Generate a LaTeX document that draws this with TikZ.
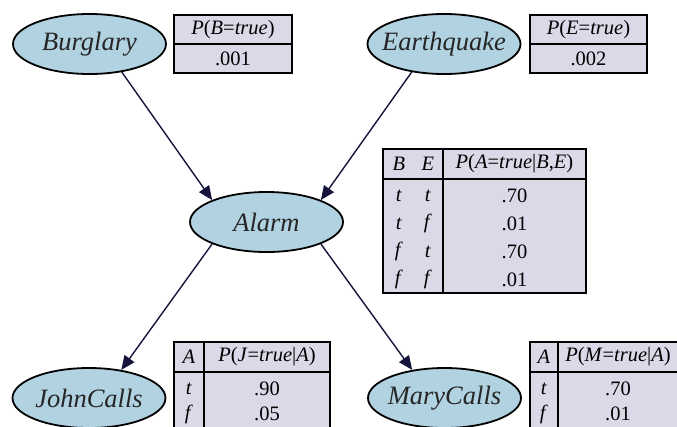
\documentclass[tikz,border=0pt]{standalone}
\usepackage{fontspec}
\setmainfont{Liberation Serif}
\usetikzlibrary{arrows.meta, positioning, shapes.geometric}
\definecolor{varblue}{HTML}{B1D2E1}
\definecolor{cptfill}{HTML}{DCD8E7}
\definecolor{linknavy}{HTML}{14143C}
\tikzset{
  var/.style={draw, ellipse, line width=1.8pt, fill=varblue, inner xsep=-10pt, inner ysep=0pt, minimum width=153pt, minimum height=60pt, text=black!85, font=\fontsize{26.5}{30}\selectfont\itshape},
  cpt/.style={draw, line width=2.2pt, fill=cptfill},
  cptline/.style={line width=2.2pt},
  cell/.style={inner sep=0pt, font=\fontsize{20.5}{24}\selectfont},
  link/.style={-{Triangle[length=14pt,width=12pt]}, line width=1.4pt, linknavy}
}

\begin{document}
\begin{tikzpicture}[x=1pt,y=-1pt]
    \useasboundingbox (0,0) rectangle (677,426);
    \clip (0,0) rectangle (677,426);
    % variables
    \node[var] (burglary) at (89.5,44) {Burglary};
    \node[var] (earthquake) at (444,44) {Earthquake};
    \node[var] (alarm) at (266.5,222) {Alarm};
    \node[var] (johncalls) at (89,398) {JohnCalls};
    \node[var] (marycalls) at (444.5,398) {MaryCalls};
    \draw[link] (burglary.-41) -- (alarm.158);
    \draw[link] (earthquake.-139) -- (alarm.22);
    \draw[link] (alarm.-158) -- (johncalls.41);
    \draw[link] (alarm.-22) -- (marycalls.139);
    % P(B)
    \draw[cpt] (174,15) rectangle (292,73);
    \draw[cptline] (174,44) -- (292,44);
    \node[cell] (pbhead) at (233,29.5) {\textit{P}(\textit{B}=\textit{true})};
    \node[cell] (pbval) at (233,59) {.001};
    % P(E)
    \draw[cpt] (530,15) rectangle (647,73);
    \draw[cptline] (530,44) -- (647,44);
    \node[cell] (pehead) at (588.5,29.5) {\textit{P}(\textit{E}=\textit{true})};
    \node[cell] (peval) at (588.5,59) {.002};
    % P(A|B,E)
    \draw[cpt] (383,149) rectangle (586,293);
    \draw[cptline] (383,179) -- (586,179);
    \draw[cptline] (443,149) -- (443,293);
    \node[cell] (pab) at (399,164) {\textit{B}};
    \node[cell] (pae) at (428,164) {\textit{E}};
    \node[cell] (pahead) at (514.5,164) {\textit{P}(\textit{A}=\textit{true}|\textit{B},\textit{E})};
    \node[cell] (pab1) at (399,195.5) {\textit{t}};
    \node[cell] (pae1) at (428,195.5) {\textit{t}};
    \node[cell] (paval1) at (514.5,195.5) {.70};
    \node[cell] (pab2) at (399,223.5) {\textit{t}};
    \node[cell] (pae2) at (428,223.5) {\textit{f}};
    \node[cell] (paval2) at (514.5,223.5) {.01};
    \node[cell] (pab3) at (399,251.5) {\textit{f}};
    \node[cell] (pae3) at (428,251.5) {\textit{t}};
    \node[cell] (paval3) at (514.5,251.5) {.70};
    \node[cell] (pab4) at (399,279.5) {\textit{f}};
    \node[cell] (pae4) at (428,279.5) {\textit{f}};
    \node[cell] (paval4) at (514.5,279.5) {.01};
    % P(J|A)
    \draw[cpt] (174,342) rectangle (330,440);
    \draw[cptline] (174,372) -- (330,372);
    \draw[cptline] (204,342) -- (204,440);
    \node[cell] (pja) at (189,357) {\textit{A}};
    \node[cell] (pjhead) at (267,357) {\textit{P}(\textit{J}=\textit{true}|\textit{A})};
    \node[cell] (pja1) at (189,389) {\textit{t}};
    \node[cell] (pjval1) at (267,389) {.90};
    \node[cell] (pja2) at (189,414) {\textit{f}};
    \node[cell] (pjval2) at (267,414) {.05};
    % P(M|A)
    \draw[cpt] (530,342) rectangle (690,440);
    \draw[cptline] (530,372) -- (690,372);
    \draw[cptline] (558,342) -- (558,440);
    \node[cell] (pma) at (544,357) {\textit{A}};
    \node[cell] (pmhead) at (618,357) {\textit{P}(\textit{M}=\textit{true}|\textit{A})};
    \node[cell] (pma1) at (544,389) {\textit{t}};
    \node[cell] (pmval1) at (618,389) {.70};
    \node[cell] (pma2) at (544,414) {\textit{f}};
    \node[cell] (pmval2) at (618,414) {.01};
\end{tikzpicture}
\end{document}
